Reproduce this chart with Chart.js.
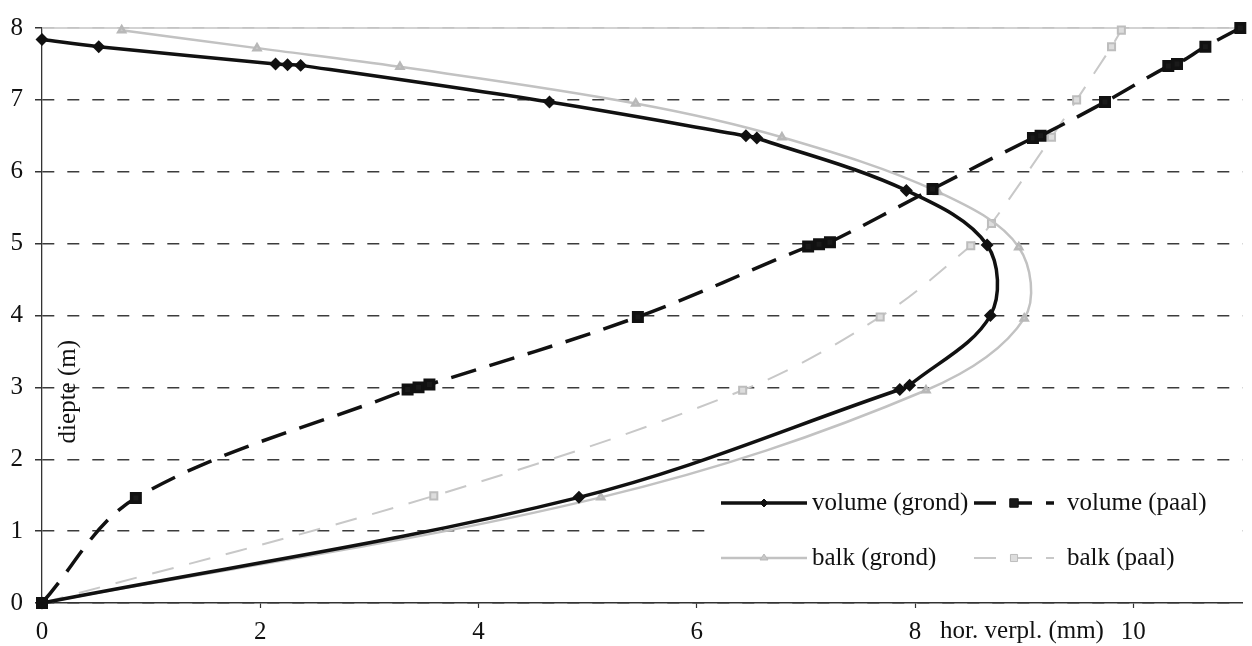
<!DOCTYPE html>
<html>
<head>
<meta charset="utf-8">
<script src="https://cdn.jsdelivr.net/npm/chart.js@4/dist/chart.umd.min.js"></script>
<style>
  html, body { margin: 0; padding: 0; background: #fff; }
  #wrap { width: 1252px; height: 646px; }
</style>
</head>
<body>
<div id="wrap"><canvas id="chart"></canvas></div>
<script>
const xTicks = [0, 2, 4, 6, 8, 10]
const yTicks = [0, 1, 2, 3, 4, 5, 6, 7, 8]
const xTitle = 'hor. verpl. (mm)'
const yTitle = 'diepte (m)'
const seriesNames = ['volume (grond)', 'volume (paal)', 'balk (grond)', 'balk (paal)']

// one point per marker
const volumeGrondX = [0, 4.92, 7.86, 7.95, 8.69, 8.66, 7.92, 6.55, 6.45, 4.65, 2.37, 2.25, 2.14, 0.52, 0]
const volumeGrondY = [0, 1.47, 2.97, 3.03, 4.0, 4.98, 5.74, 6.47, 6.5, 6.97, 7.48, 7.49, 7.5, 7.74, 7.84]

const volumePaalX = [0, 0.86, 3.35, 3.45, 3.55, 5.46, 7.02, 7.12, 7.22, 8.16, 9.08, 9.15, 9.74, 10.32, 10.4, 10.66, 10.98]
const volumePaalY = [0, 1.46, 2.97, 3.0, 3.04, 3.98, 4.96, 4.99, 5.02, 5.76, 6.47, 6.5, 6.97, 7.47, 7.5, 7.74, 8.0]

const balkGrondX = [0, 5.12, 8.1, 9.0, 8.95, 8.21, 6.78, 5.44, 3.28, 1.97, 0.73]
const balkGrondY = [0, 1.47, 2.96, 3.96, 4.95, 5.72, 6.48, 6.95, 7.46, 7.72, 7.97]

const balkPaalX = [0, 3.59, 6.42, 7.68, 8.51, 8.7, 9.25, 9.48, 9.8, 9.89]
const balkPaalY = [0, 1.49, 2.96, 3.98, 4.97, 5.28, 6.48, 7.0, 7.74, 7.97]

const FONT = '"Liberation Serif", "Times New Roman", serif'
const FONT_SIZE = 25

function points(xs, ys) {
    return xs.map((x, i) => ({ x: x, y: ys[i] }))
}

function drawMarker(ctx, style, x, y, r) {
    ctx.beginPath()
    if (style === 'rectRot') {
        ctx.moveTo(x, y - r)
        ctx.lineTo(x + r, y)
        ctx.lineTo(x, y + r)
        ctx.lineTo(x - r, y)
        ctx.closePath()
    } else if (style === 'rect') {
        const s = r * Math.SQRT1_2
        ctx.rect(x - s, y - s, 2 * s, 2 * s)
    } else {
        const h = r * 1.5
        ctx.moveTo(x, y - h * 0.66)
        ctx.lineTo(x + r, y + h * 0.33)
        ctx.lineTo(x - r, y + h * 0.33)
        ctx.closePath()
    }
    ctx.fill()
    ctx.stroke()
}

// legend box in the lower right of the plot
const boxLegend = {
    id: 'boxLegend',
    afterDatasetsDraw(chart) {
        const ctx = chart.ctx
        const slots = [
            { x: 721, y: 503, len: 86, textX: 812, dash: [] },
            { x: 974, y: 503, len: 80, textX: 1067, dash: [22, 14] },
            { x: 721, y: 558, len: 86, textX: 812, dash: [] },
            { x: 974, y: 558, len: 80, textX: 1067, dash: [22, 14] }
        ]
        ctx.save()
        ctx.fillStyle = '#fff'
        ctx.fillRect(716, 468, 522, 124)
        chart.data.datasets.forEach((ds, i) => {
            const s = slots[i]
            ctx.strokeStyle = ds.borderColor
            ctx.lineWidth = ds.borderWidth
            ctx.setLineDash(s.dash)
            ctx.beginPath()
            ctx.moveTo(s.x, s.y)
            ctx.lineTo(s.x + s.len, s.y)
            ctx.stroke()
            ctx.setLineDash([])
            ctx.fillStyle = ds.pointBackgroundColor
            ctx.strokeStyle = ds.pointBorderColor
            ctx.lineWidth = 1
            drawMarker(ctx, ds.pointStyle, s.x + s.len / 2, s.y, ds.pointRadius)
            ctx.fillStyle = '#111'
            ctx.font = FONT_SIZE + 'px ' + FONT
            ctx.textBaseline = 'middle'
            ctx.textAlign = 'left'
            ctx.fillText(ds.label, s.textX, s.y)
        })
        ctx.restore()
    }
}

const axisText = {
    id: 'axisText',
    beforeDatasetsDraw(chart) {
        const ctx = chart.ctx
        const a = chart.chartArea
        ctx.save()
        ctx.strokeStyle = '#c4c4c4'
        ctx.lineWidth = 1.5
        ctx.beginPath()
        ctx.moveTo(a.left, a.top)
        ctx.lineTo(a.right, a.top)
        ctx.stroke()
        ctx.restore()
    },
    afterDraw(chart) {
        const ctx = chart.ctx
        const xs = chart.scales.x
        const ys = chart.scales.y
        ctx.save()
        ctx.fillStyle = '#111'
        ctx.font = FONT_SIZE + 'px ' + FONT
        ctx.textBaseline = 'middle'
        ctx.textAlign = 'left'
        ctx.fillText(xTitle, xs.getPixelForValue(8) + 25, 631)
        ctx.translate(chart.chartArea.left + 26, ys.getPixelForValue(2.94))
        ctx.rotate(-Math.PI / 2)
        ctx.textAlign = 'center'
        ctx.fillText(yTitle, 0, 0)
        ctx.restore()
    }
}

const chart = document.querySelector('#chart').getContext('2d')

new Chart(chart, {
    type: 'scatter',
    data: {
        datasets: [
            {
                label: seriesNames[0],
                data: points(volumeGrondX, volumeGrondY),
                showLine: true,
                borderColor: '#111',
                borderWidth: 3.5,
                pointStyle: 'rectRot',
                pointRadius: 4,
                pointBackgroundColor: '#111',
                pointBorderColor: '#111'
            },
            {
                label: seriesNames[1],
                data: points(volumePaalX, volumePaalY),
                showLine: true,
                borderColor: '#111',
                borderWidth: 3.5,
                borderDash: [26, 14],
                pointStyle: 'rect',
                pointRadius: 6,
                pointBackgroundColor: '#1a1a1a',
                pointBorderColor: '#111'
            },
            {
                label: seriesNames[2],
                data: points(balkGrondX, balkGrondY),
                showLine: true,
                borderColor: '#c2c2c2',
                borderWidth: 2.5,
                pointStyle: 'triangle',
                pointRadius: 4,
                pointBackgroundColor: '#c8c8c8',
                pointBorderColor: '#b8b8b8'
            },
            {
                label: seriesNames[3],
                data: points(balkPaalX, balkPaalY),
                showLine: true,
                borderColor: '#c8c8c8',
                borderWidth: 2,
                borderDash: [22, 16],
                pointStyle: 'rect',
                pointRadius: 5,
                pointBackgroundColor: '#dddddd',
                pointBorderColor: '#bdbdbd'
            }
        ]
    },
    options: {
        responsive: true,
        maintainAspectRatio: false,
        animation: false,
        devicePixelRatio: 1,
        elements: { line: { tension: 0.35 } },
        datasets: { scatter: { clip: false } },
        layout: { padding: { top: 28, right: 0, bottom: 0, left: 0 } },
        plugins: {
            legend: { display: false },
            tooltip: { enabled: false }
        },
        scales: {
            x: {
                type: 'linear',
                min: 0,
                max: 11,
                afterBuildTicks: scale => { scale.ticks = xTicks.map(v => ({ value: v })) },
                afterFit: scale => { scale.height = 43 },
                grid: { drawOnChartArea: false, tickLength: 5, tickColor: '#333', tickWidth: 1.2 },
                border: { color: '#333', width: 1.5 },
                ticks: { color: '#111', padding: 9, maxRotation: 0, font: { family: FONT, size: FONT_SIZE } }
            },
            y: {
                type: 'linear',
                min: 0,
                max: 8,
                afterBuildTicks: scale => { scale.ticks = yTicks.map(v => ({ value: v })) },
                afterFit: scale => { scale.width = 42 },
                grid: {
                    color: c => (c.tick && c.tick.value === 8) ? '#c4c4c4' : '#3c3c3c',
                    lineWidth: 1.5,
                    tickLength: 7,
                    tickColor: '#333'
                },
                border: { color: '#333', width: 1.3, dash: [12, 13] },
                ticks: { color: '#111', padding: 12, font: { family: FONT, size: FONT_SIZE } }
            }
        }
    },
    plugins: [axisText, boxLegend]
})
</script>
</body>
</html>
